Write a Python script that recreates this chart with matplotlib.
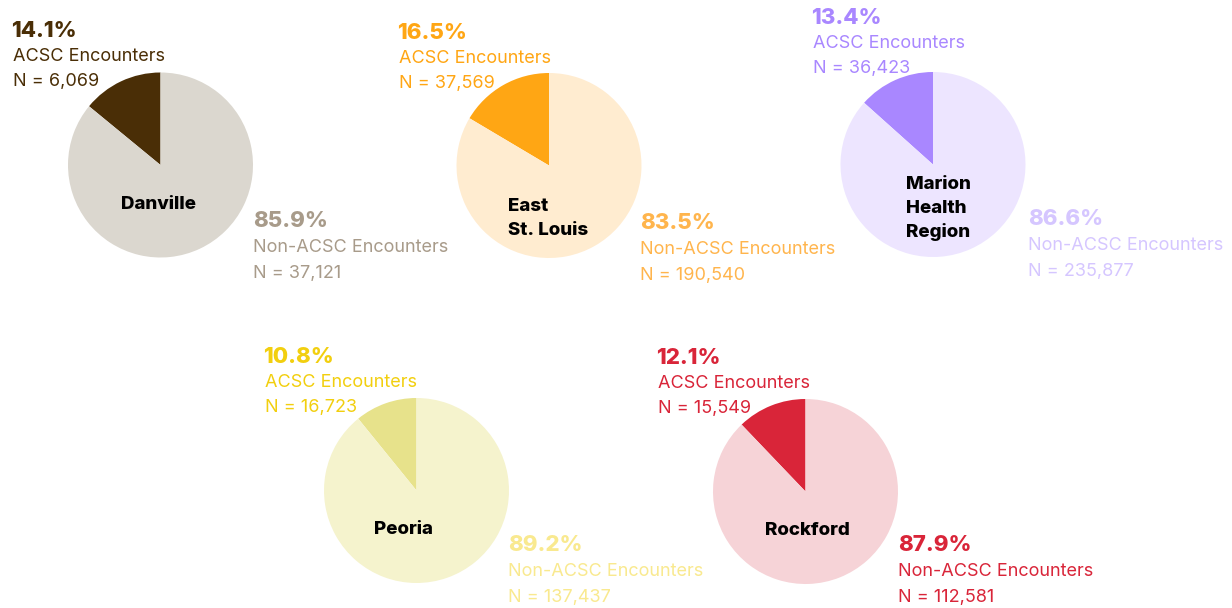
import matplotlib
matplotlib.use("Agg")
import matplotlib.pyplot as plt

plt.rcParams['font.family'] = ['Inter', 'DejaVu Sans']

W, H = 1232, 608

regions = ["Danville", "East\nSt. Louis", "Marion\nHealth\nRegion", "Peoria", "Rockford"]
acsc = [6069, 37569, 36423, 16723, 15549]
non_acsc = [37121, 190540, 235877, 137437, 112581]

slice_colors = ["#4a2e06", "#ffa614", "#a987ff", "#e7e28b", "#d92539"]
rest_colors = ["#dbd7cf", "#ffecd0", "#ede5ff", "#f5f3cd", "#f6d3d7"]
top_text_colors = ["#4a2e06", "#ffa614", "#a987ff", "#f2cf0f", "#d92539"]
bottom_text_colors = ["#a89b8a", "#ffb54d", "#d5c6ff", "#f9e98f", "#d92539"]

# layout in pixels (y measured from the top)
centers = [(160.5, 165), (549, 165.5), (933, 164.5), (416.5, 490.5), (805.5, 491.5)]
radius = 92.5
top_pos = [(11, 37), (397, 39), (811, 24), (263, 363), (656, 364)]
bottom_pos = [(253, 227), (640, 229), (1028, 225), (508, 551), (898, 551)]
name_pos = [(159, 209, "center"), (508, 211, "left"), (906, 189, "left"),
            (403, 534, "center"), (807, 535, "center")]

fig = plt.figure(figsize=(W / 100, H / 100), dpi=100)
ax = fig.add_axes([0, 0, 1, 1])


def fy(y):
    return H - y


for i in range(len(regions)):
    cx, cy = centers[i]
    ax.pie([acsc[i], non_acsc[i]], colors=[slice_colors[i], rest_colors[i]],
           startangle=90, counterclock=True, center=(cx, fy(cy)), radius=radius,
           frame=True, wedgeprops=dict(linewidth=0))

    total = acsc[i] + non_acsc[i]
    p_acsc = 100 * acsc[i] / total
    p_non = 100 * non_acsc[i] / total

    x, y = top_pos[i]
    ax.text(x, fy(y), f"{p_acsc:.1f}%", fontsize=16, fontweight="heavy",
            color=top_text_colors[i], va="baseline")
    ax.text(x + 2, fy(y + 24), "ACSC Encounters", fontsize=13,
            color=top_text_colors[i], va="baseline")
    ax.text(x + 2, fy(y + 49), f"N = {acsc[i]:,}", fontsize=13,
            color=top_text_colors[i], va="baseline")

    x, y = bottom_pos[i]
    ax.text(x, fy(y), f"{p_non:.1f}%", fontsize=16, fontweight="heavy",
            color=bottom_text_colors[i], va="baseline")
    ax.text(x, fy(y + 25), "Non-ACSC Encounters", fontsize=13,
            color=bottom_text_colors[i], va="baseline")
    ax.text(x, fy(y + 51), f"N = {non_acsc[i]:,}", fontsize=13,
            color=bottom_text_colors[i], va="baseline")

    nx, ny, ha = name_pos[i]
    for k, line in enumerate(regions[i].split("\n")):
        ax.text(nx, fy(ny + 24 * k), line, fontsize=13.5, fontweight="heavy",
                color="black", ha=ha, va="baseline")

ax.set_xlim(0, W)
ax.set_ylim(0, H)
ax.set_aspect("equal")
ax.axis("off")

fig.savefig("out.png", dpi=100, facecolor="white")
